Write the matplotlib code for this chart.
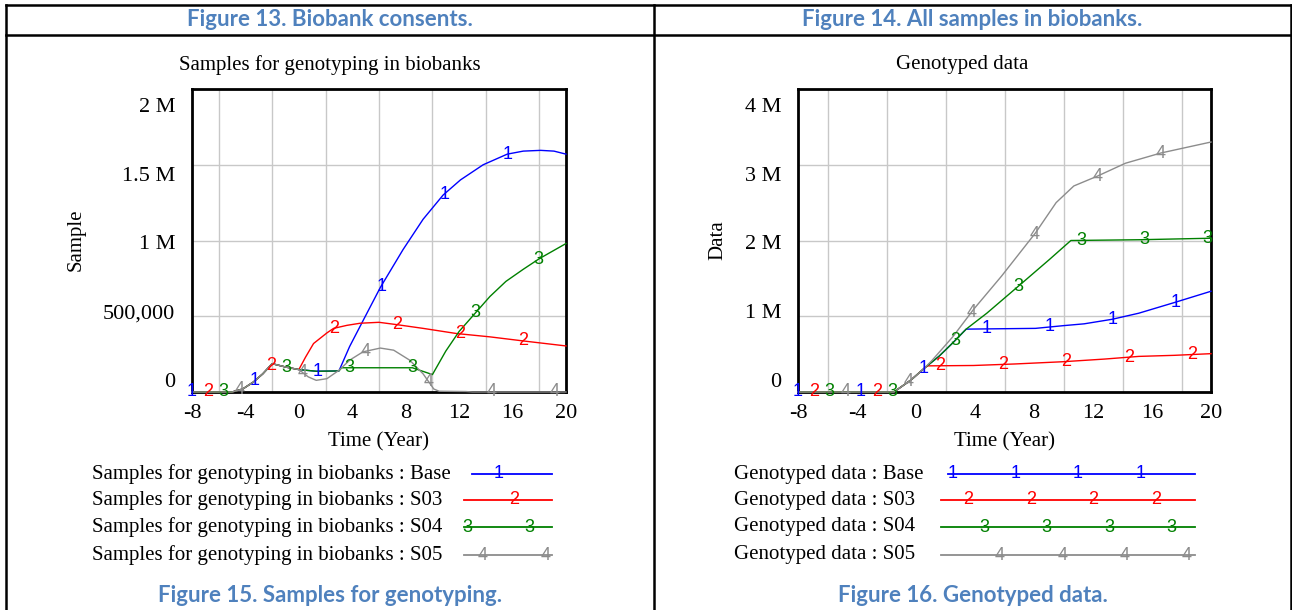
import matplotlib
matplotlib.use("Agg")
import matplotlib.pyplot as plt
from matplotlib.lines import Line2D
import numpy as np

W, H = 1292, 610

# ---- left chart: samples for genotyping in biobanks (values in millions)
base_t = [-8, -5, -4.2, -3.4, -2.7, -2, -1, 0, 1.3, 3, 3.8, 4.8, 6.1, 7.8, 9.3, 10.8, 12.1, 13.8, 15.6, 16.8, 18.1, 19.1, 20]
base_v = [0, 0, 0.02, 0.066, 0.12, 0.187, 0.165, 0.148, 0.137, 0.139, 0.30, 0.47, 0.69, 0.94, 1.14, 1.30, 1.40, 1.50, 1.57, 1.59, 1.595, 1.59, 1.57]
s03_t = [-8, -5, -4.2, -3.4, -2.7, -2, -1, 0, 0.5, 1.1, 2.1, 2.6, 3.6, 4.6, 6.0, 7.3, 9.3, 11.8, 14.3, 16.8, 20]
s03_v = [0, 0, 0.02, 0.066, 0.12, 0.187, 0.165, 0.148, 0.23, 0.32, 0.39, 0.42, 0.44, 0.454, 0.46, 0.445, 0.42, 0.386, 0.364, 0.337, 0.304]
s04_t = [-8, -5, -4.2, -3.4, -2.7, -2, -1, 0, 1.3, 3, 3.2, 8.5, 10.0, 11.0, 12.0, 13.1, 14.3, 15.5, 16.8, 18.0, 20]
s04_v = [0, 0, 0.02, 0.066, 0.12, 0.187, 0.165, 0.148, 0.137, 0.139, 0.16, 0.16, 0.115, 0.27, 0.40, 0.51, 0.63, 0.73, 0.81, 0.88, 0.98]
s05_t = [-8, -5, -4.2, -3.4, -2.7, -2, -1, 0, 0.7, 1.3, 2.1, 3, 3.8, 4.8, 6.1, 7.1, 8.3, 9.3, 10.1, 10.5, 12.5, 13, 20]
s05_v = [0, 0, 0.02, 0.066, 0.12, 0.187, 0.165, 0.148, 0.10, 0.077, 0.088, 0.143, 0.21, 0.265, 0.29, 0.276, 0.21, 0.12, 0.02, 0.005, 0.003, 0, 0]

# ---- right chart: genotyped data (values in millions)
gbase_t = [-8, -1.5, -0.33, 0.6, 1.55, 2.5, 3.4, 8.1, 10, 11.4, 13.3, 15.1, 17.5, 20]
gbase_v = [0, 0, 0.16, 0.32, 0.47, 0.65, 0.83, 0.84, 0.876, 0.90, 0.96, 1.04, 1.18, 1.33]
gs03_t = [-8, -1.5, -0.33, 0.6, 0.8, 3.9, 6.7, 10, 12.8, 15.1, 17.5, 20]
gs03_v = [0, 0, 0.16, 0.32, 0.345, 0.35, 0.37, 0.40, 0.435, 0.47, 0.484, 0.506]
gs04_t = [-8, -1.5, -0.33, 0.6, 1.55, 2.5, 3.4, 4.8, 7.2, 9.05, 10.5, 15.1, 20]
gs04_v = [0, 0, 0.16, 0.32, 0.47, 0.65, 0.83, 1.04, 1.44, 1.75, 2.0, 2.01, 2.03]
gs05_t = [-8, -1.5, -0.33, 0.6, 1.1, 2.5, 3.9, 5.8, 8.1, 9.5, 10.7, 12.3, 14.2, 16.6, 20]
gs05_v = [0, 0, 0.16, 0.32, 0.42, 0.73, 1.09, 1.53, 2.10, 2.50, 2.72, 2.85, 3.02, 3.155, 3.30]

runs = ["Base", "S03", "S04", "S05"]
left_yticks = ["0", "500,000", "1 M", "1.5 M", "2 M"]
right_yticks = ["0", "1 M", "2 M", "3 M", "4 M"]
xticks = [-8, -4, 0, 4, 8, 12, 16, 20]

colors = ["#0000ff", "#ff0000", "#008000", "#8c8c8c"]
BLUE_HEAD = "#4f81bd"
SERIF = "Liberation Serif"
SANS = "Liberation Sans"
DIGIT = 13


def px(x, y):
    return x / W, 1 - y / H


fig = plt.figure(figsize=(W / 100, H / 100), dpi=100)


def make_chart(rect, series, ymax, ylabels, title, title_x, spacing):
    ax = fig.add_axes(rect)
    for i, (t, v) in enumerate(series):
        t = np.array(t)
        v = np.array(v) * 1e6
        ax.plot(t, v, color=colors[i], lw=1.0, zorder=3, clip_on=False)
        # vensim style digit markers along each line
        mt = np.arange(-8 + i * spacing / 4, 20.01, spacing)
        for m in mt:
            ax.text(m, np.interp(m, t, v), str(i + 1), color=colors[i], fontsize=DIGIT,
                    family=SANS, ha="center", va="center", zorder=4, clip_on=False)
    ax.set_xlim(-8, 20)
    ax.set_ylim(0, ymax)
    ax.set_xticks(xticks)
    ax.set_xticklabels([str(x) for x in xticks], family=SERIF, fontsize=16)
    ax.set_xticks(np.arange(-8, 21, 2), minor=True)
    ax.set_yticks(np.linspace(0, ymax, 5), minor=True)
    ax.set_yticks(ymax * (0.04 + 0.907 * np.arange(5) / 4))
    ax.set_yticklabels(ylabels, family=SERIF, fontsize=16)
    ax.tick_params(which="both", length=0)
    ax.tick_params(axis="y", pad=12)
    ax.tick_params(axis="x", pad=9)
    ax.grid(which="minor", color="#c8c8c8", lw=1.0)
    ax.grid(which="major", visible=False)
    for s in ax.spines.values():
        s.set_linewidth(2.0)
    ax.set_xlabel("Time (Year)", family=SERIF, fontsize=15, labelpad=6)
    fig.text(*px(title_x, 65), title, family=SERIF, fontsize=15, ha="center", va="center")
    return ax


axl = make_chart([192 / W, 1 - 392 / H, 374 / W, 303 / H],
                 [(base_t, base_v), (s03_t, s03_v), (s04_t, s04_v), (s05_t, s05_v)],
                 2e6, left_yticks, "Samples for genotyping in biobanks", 330, 4.72)
fig.text(*px(76, 240), "Sample", family=SERIF, fontsize=15, rotation=90, ha="center", va="center")

axr = make_chart([798 / W, 1 - 392 / H, 413 / W, 303 / H],
                 [(gbase_t, gbase_v), (gs03_t, gs03_v), (gs04_t, gs04_v), (gs05_t, gs05_v)],
                 4e6, right_yticks, "Genotyped data", 962, 4.27)
fig.text(*px(718, 240), "Data", family=SERIF, fontsize=15, rotation=90, ha="center", va="center")

# ---- legends
rows = [474, 500, 527, 555]


def legend(text_x, name, starts, end, first_mark, step=62.4):
    for i, run in enumerate(runs):
        y = rows[i]
        fig.text(*px(text_x, y), f"{name} : {run}", family=SERIF, fontsize=15, ha="left", va="center")
        x0, y0 = px(starts[i], y)
        x1, _ = px(end, y)
        fig.add_artist(Line2D([x0, x1], [y0, y0], color=colors[i], lw=1.3))
        m = first_mark + i * step / 4
        while m <= end + 1:
            if m >= starts[i] - 1:
                fig.text(*px(m, y), str(i + 1), color=colors[i], fontsize=DIGIT, family=SANS,
                         ha="center", va="center")
            m += step


legend(92, "Samples for genotyping in biobanks", [472, 464, 464, 464], 552, 436)
legend(734, "Genotyped data", [948, 941, 941, 941], 1195, 953)

# ---- table frame, headers and captions
for xs, ys in [([6, 1291], [5, 5]), ([6, 1291], [35, 35]), ([6, 6], [5, 610]),
               ([654, 654], [5, 610]), ([1291, 1291], [5, 610])]:
    p0 = px(xs[0], ys[0])
    p1 = px(xs[1], ys[1])
    fig.add_artist(Line2D([p0[0], p1[0]], [p0[1], p1[1]], color="black", lw=1.8))

head_kw = dict(family="Lato", fontweight="bold", fontsize=16, color=BLUE_HEAD, ha="center", va="center")
fig.text(*px(330, 20), "Figure 13. Biobank consents.", **head_kw)
fig.text(*px(972, 20), "Figure 14. All samples in biobanks.", **head_kw)
fig.text(*px(330, 596), "Figure 15. Samples for genotyping.", **head_kw)
fig.text(*px(973, 596), "Figure 16. Genotyped data.", **head_kw)

fig.savefig("out.png", dpi=100)
